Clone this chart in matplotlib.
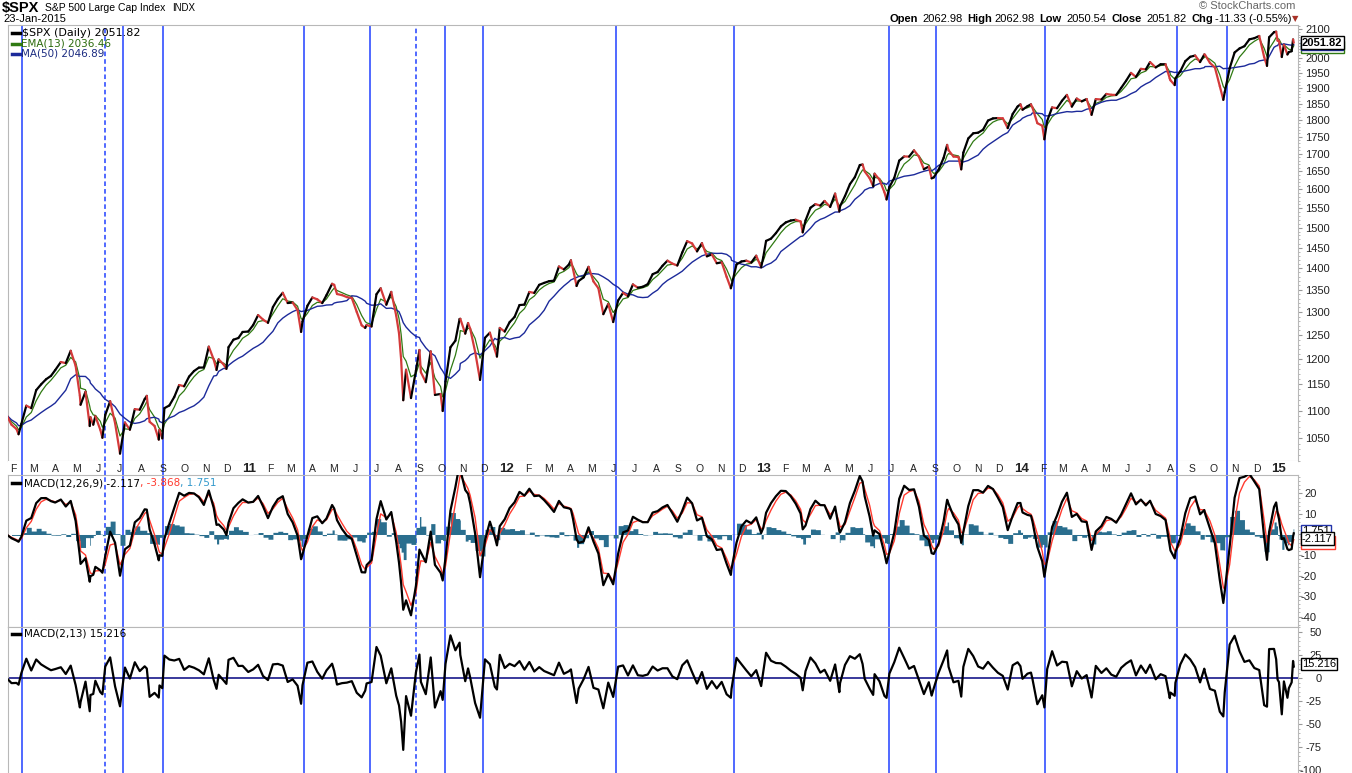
import numpy as np
import pandas as pd
import matplotlib
matplotlib.use("Agg")
import matplotlib.pyplot as plt
import matplotlib.dates as mdates
from matplotlib.collections import LineCollection
from matplotlib.lines import Line2D
from matplotlib.ticker import FixedLocator, NullFormatter, FuncFormatter
from matplotlib.transforms import blended_transform_factory

# $SPX closes (weekly, plus the sharp swing days)
price_dates = [
    # 2010
    "2010-01-22", "2010-01-29", "2010-02-05", "2010-02-08", "2010-02-12", "2010-02-19", "2010-02-26",
    "2010-03-05", "2010-03-12", "2010-03-19", "2010-03-26", "2010-04-01", "2010-04-09", "2010-04-16",
    "2010-04-23", "2010-04-30", "2010-05-06", "2010-05-07", "2010-05-14", "2010-05-20", "2010-05-21",
    "2010-05-25", "2010-05-28", "2010-06-04", "2010-06-07", "2010-06-11", "2010-06-18", "2010-06-25",
    "2010-07-02", "2010-07-09", "2010-07-16", "2010-07-23", "2010-07-30", "2010-08-06", "2010-08-09",
    "2010-08-13", "2010-08-20", "2010-08-26", "2010-08-27", "2010-08-31", "2010-09-03", "2010-09-10",
    "2010-09-17", "2010-09-24", "2010-10-01", "2010-10-08", "2010-10-15", "2010-10-22", "2010-10-29",
    "2010-11-05", "2010-11-12", "2010-11-16", "2010-11-19", "2010-11-26", "2010-11-30", "2010-12-03",
    "2010-12-10", "2010-12-17", "2010-12-23", "2010-12-31",
    # 2011
    "2011-01-07", "2011-01-14", "2011-01-21", "2011-01-28", "2011-02-04", "2011-02-11", "2011-02-18",
    "2011-02-25", "2011-03-04", "2011-03-11", "2011-03-16", "2011-03-18", "2011-03-25", "2011-04-01",
    "2011-04-08", "2011-04-15", "2011-04-21", "2011-04-29", "2011-05-02", "2011-05-06", "2011-05-13",
    "2011-05-20", "2011-05-27", "2011-06-03", "2011-06-10", "2011-06-15", "2011-06-17", "2011-06-24",
    "2011-07-01", "2011-07-07", "2011-07-15", "2011-07-22", "2011-07-29", "2011-08-02", "2011-08-05",
    "2011-08-08", "2011-08-12", "2011-08-19", "2011-08-26", "2011-08-31", "2011-09-02", "2011-09-09",
    "2011-09-16", "2011-09-22", "2011-09-30", "2011-10-03", "2011-10-07", "2011-10-14", "2011-10-21",
    "2011-10-27", "2011-10-28", "2011-11-04", "2011-11-08", "2011-11-11", "2011-11-18", "2011-11-25",
    "2011-12-02", "2011-12-09", "2011-12-16", "2011-12-19", "2011-12-23", "2011-12-30",
    # 2012
    "2012-01-06", "2012-01-13", "2012-01-20", "2012-01-27", "2012-02-03", "2012-02-10", "2012-02-17",
    "2012-02-24", "2012-03-02", "2012-03-09", "2012-03-16", "2012-03-23", "2012-03-30", "2012-04-02",
    "2012-04-05", "2012-04-10", "2012-04-13", "2012-04-20", "2012-04-27", "2012-05-04", "2012-05-11",
    "2012-05-18", "2012-05-25", "2012-06-01", "2012-06-08", "2012-06-15", "2012-06-22", "2012-06-29",
    "2012-07-06", "2012-07-13", "2012-07-20", "2012-07-27", "2012-08-03", "2012-08-10", "2012-08-17",
    "2012-08-24", "2012-08-31", "2012-09-07", "2012-09-14", "2012-09-21", "2012-09-28", "2012-10-05",
    "2012-10-12", "2012-10-19", "2012-10-26", "2012-11-02", "2012-11-09", "2012-11-15", "2012-11-16",
    "2012-11-23", "2012-11-30", "2012-12-07", "2012-12-14", "2012-12-21", "2012-12-28", "2012-12-31",
    # 2013
    "2013-01-04", "2013-01-11", "2013-01-18", "2013-01-25", "2013-02-01", "2013-02-08", "2013-02-15",
    "2013-02-22", "2013-02-25", "2013-03-01", "2013-03-08", "2013-03-15", "2013-03-22", "2013-03-28",
    "2013-04-05", "2013-04-12", "2013-04-18", "2013-04-19", "2013-04-26", "2013-05-03", "2013-05-10",
    "2013-05-17", "2013-05-21", "2013-05-24", "2013-05-31", "2013-06-05", "2013-06-07", "2013-06-14",
    "2013-06-21", "2013-06-24", "2013-06-28", "2013-07-05", "2013-07-12", "2013-07-19", "2013-07-26",
    "2013-08-02", "2013-08-09", "2013-08-16", "2013-08-23", "2013-08-27", "2013-08-30", "2013-09-06",
    "2013-09-13", "2013-09-18", "2013-09-20", "2013-09-27", "2013-10-04", "2013-10-08", "2013-10-11",
    "2013-10-18", "2013-10-25", "2013-11-01", "2013-11-08", "2013-11-15", "2013-11-22", "2013-11-29",
    "2013-12-06", "2013-12-13", "2013-12-20", "2013-12-27", "2013-12-31",
    # 2014
    "2014-01-03", "2014-01-10", "2014-01-15", "2014-01-17", "2014-01-24", "2014-01-31", "2014-02-03",
    "2014-02-07", "2014-02-14", "2014-02-21", "2014-02-28", "2014-03-07", "2014-03-14", "2014-03-21",
    "2014-03-28", "2014-04-04", "2014-04-11", "2014-04-17", "2014-04-25", "2014-05-02", "2014-05-09",
    "2014-05-16", "2014-05-23", "2014-05-30", "2014-06-06", "2014-06-13", "2014-06-20", "2014-06-27",
    "2014-07-03", "2014-07-11", "2014-07-18", "2014-07-25", "2014-07-31", "2014-08-01", "2014-08-07",
    "2014-08-08", "2014-08-15", "2014-08-22", "2014-08-29", "2014-09-05", "2014-09-12", "2014-09-18",
    "2014-09-19", "2014-09-26", "2014-10-03", "2014-10-10", "2014-10-15", "2014-10-17", "2014-10-24",
    "2014-10-31", "2014-11-07", "2014-11-14", "2014-11-21", "2014-11-28", "2014-12-05", "2014-12-12",
    "2014-12-16", "2014-12-19", "2014-12-26", "2014-12-29", "2014-12-31",
    # 2015
    "2015-01-02", "2015-01-06", "2015-01-09", "2015-01-14", "2015-01-16", "2015-01-20", "2015-01-22",
    "2015-01-23",
]
price_close = [
    # 2010
    1091.76, 1073.87, 1066.19, 1056.74, 1075.51, 1109.17, 1104.49,
    1138.70, 1149.99, 1159.90, 1166.59, 1178.10, 1194.37, 1192.13,
    1217.28, 1186.69, 1128.15, 1110.88, 1135.68, 1071.59, 1087.69,
    1074.03, 1089.41, 1064.88, 1050.47, 1091.60, 1117.51, 1076.76,
    1022.58, 1077.96, 1064.88, 1102.66, 1101.60, 1121.64, 1127.79,
    1079.25, 1071.69, 1047.22, 1064.59, 1049.33, 1104.51, 1109.55,
    1125.59, 1148.67, 1146.24, 1165.15, 1176.19, 1183.08, 1183.26,
    1225.85, 1199.21, 1178.34, 1199.73, 1189.40, 1180.55, 1224.71,
    1240.40, 1243.91, 1256.77, 1257.64,
    # 2011
    1271.50, 1293.24, 1283.35, 1276.34, 1310.87, 1329.15, 1343.01,
    1319.88, 1321.15, 1304.28, 1256.88, 1279.20, 1313.80, 1332.41,
    1328.17, 1319.68, 1337.38, 1363.61, 1361.22, 1340.20, 1337.77,
    1333.27, 1331.10, 1300.16, 1270.98, 1265.42, 1271.50, 1268.45,
    1339.67, 1353.22, 1316.14, 1345.02, 1292.28, 1254.05, 1199.38,
    1119.46, 1178.81, 1123.53, 1176.80, 1218.89, 1173.97, 1154.23,
    1216.01, 1129.56, 1131.42, 1099.23, 1155.46, 1224.58, 1238.25,
    1284.59, 1285.09, 1253.23, 1275.92, 1263.85, 1215.65, 1158.67,
    1244.28, 1255.19, 1219.66, 1205.35, 1265.33, 1257.60,
    # 2012
    1277.81, 1289.09, 1315.38, 1316.33, 1344.90, 1342.64, 1361.23,
    1365.74, 1369.63, 1370.87, 1404.17, 1397.11, 1408.47, 1419.04,
    1398.08, 1358.59, 1370.26, 1378.53, 1403.36, 1369.10, 1353.39,
    1295.22, 1317.82, 1278.04, 1325.66, 1342.84, 1335.02, 1362.16,
    1354.68, 1356.78, 1362.66, 1385.97, 1390.99, 1405.87, 1418.16,
    1411.13, 1406.58, 1437.92, 1465.77, 1460.15, 1440.67, 1460.93,
    1428.59, 1433.19, 1411.94, 1414.20, 1379.85, 1353.33, 1359.88,
    1409.15, 1416.18, 1418.07, 1413.58, 1430.15, 1402.43, 1426.19,
    # 2013
    1466.47, 1472.05, 1485.98, 1502.96, 1513.17, 1517.93, 1519.79,
    1515.60, 1487.85, 1518.20, 1551.18, 1560.70, 1556.89, 1569.19,
    1553.28, 1588.85, 1541.61, 1555.25, 1582.24, 1614.42, 1633.70,
    1667.47, 1669.16, 1649.60, 1630.74, 1608.90, 1643.38, 1626.73,
    1592.43, 1573.09, 1606.28, 1631.89, 1680.19, 1692.09, 1691.65,
    1709.67, 1691.42, 1655.83, 1663.50, 1630.48, 1632.97, 1655.17,
    1687.99, 1725.52, 1709.91, 1691.75, 1690.50, 1655.45, 1703.20,
    1744.50, 1759.77, 1761.64, 1770.61, 1798.18, 1804.76, 1805.81,
    1805.09, 1775.32, 1818.32, 1841.40, 1848.36,
    # 2014
    1831.37, 1842.37, 1848.38, 1838.70, 1790.29, 1782.59, 1741.89,
    1797.02, 1838.63, 1836.25, 1859.45, 1878.04, 1841.13, 1866.52,
    1857.62, 1865.09, 1815.69, 1864.85, 1863.40, 1881.14, 1878.48,
    1877.86, 1900.53, 1923.57, 1949.44, 1936.16, 1962.87, 1960.96,
    1985.44, 1967.57, 1978.22, 1978.34, 1930.67, 1925.15, 1909.57,
    1931.59, 1955.06, 1988.40, 2003.37, 2007.71, 1985.54, 2011.36,
    2010.40, 1982.85, 1967.90, 1906.13, 1862.49, 1886.76, 1964.58,
    2018.05, 2031.92, 2039.82, 2063.50, 2067.56, 2075.37, 2002.33,
    1972.74, 2070.65, 2088.77, 2090.57, 2058.90,
    # 2015
    2058.20, 2002.61, 2044.81, 2011.27, 2019.42, 2022.55, 2063.15,
    2051.82,
]

# marked turning points (vertical lines) and their style
vline_dates = ["2010-02-13", "2010-06-10", "2010-07-06", "2010-09-01", "2011-03-20", "2011-06-22",
               "2011-08-26", "2011-10-06", "2011-11-29", "2012-06-05", "2012-11-20", "2013-06-28",
               "2013-09-02", "2014-02-04", "2014-08-10", "2014-10-20"]
vline_styles = ["-", "--", "-", "-", "-", "-", "--", "-", "-", "-", "-", "-", "-", "-", "-", "-"]

price_ticks = list(range(1050, 2101, 50))
macd_ticks = [-40, -30, -20, -10, 0, 10, 20]
macd2_ticks = [-100, -75, -50, -25, 0, 25, 50]

RED = "#d43a3a"
GREEN = "#2f7a12"
NAVY = "#1c2a9a"
VBLUE = "#2040ff"
HIST = "#2a6e8e"
FRAME = "#b8b8b8"
SANS = "Liberation Sans"
VERD = "DejaVu Sans"

W, H = 1352, 773
fig = plt.figure(figsize=(W / 100, H / 100), dpi=100)
renderer = fig.canvas.get_renderer()


def panel(top, bottom):
    return fig.add_axes([8 / W, 1 - bottom / H, 1290 / W, (bottom - top) / H])


def ftext(x, y, s, **kw):
    kw.setdefault("family", SANS)
    kw.setdefault("va", "center")
    return fig.text(x / W, 1 - y / H, s, **kw)


def chain(x, y, parts, gap=0, **kw):
    # write text pieces one after another, each starting where the last ended
    for s, color in parts:
        t = ftext(x, y, s, color=color, **kw)
        x = t.get_window_extent(renderer).x1 + gap


def fline(x0, x1, y, color):
    fig.add_artist(Line2D([x0 / W, x1 / W], [1 - y / H, 1 - y / H], color=color, lw=2.5,
                          transform=fig.transFigure))


ax1 = panel(25, 461)
axd = panel(461, 475)
ax2 = panel(475, 627)
ax3 = panel(627, 790)

px = pd.Series(price_close, index=pd.to_datetime(price_dates))
x = mdates.date2num(px.index)


def ema(s, n):
    # daily EMA span n expressed as a calendar-time half life
    hl = np.log(2) / -np.log(1 - 2 / (n + 1)) * 7 / 5
    return s.ewm(halflife=pd.Timedelta(days=hl), times=s.index).mean()


ema13 = ema(px, 13)
ma50 = px.rolling("70D").mean()
macd = ema(px, 12) - ema(px, 26)
sig = ema(macd, 9)
hist = macd - sig
macd2 = ema(px, 2) - ema(px, 13)

x0 = mdates.datestr2num("2010-01-24")
x1 = mdates.datestr2num("2015-01-29")

# price panel
ax1.set_yscale("log")
pts = np.column_stack([x, px.values])
segs = np.stack([pts[:-1], pts[1:]], axis=1)
cols = np.where(np.diff(px.values) < 0, RED, "black")
ax1.add_collection(LineCollection(segs, colors=cols, linewidths=1.6, zorder=4, capstyle="round"))
ax1.plot(x, ema13.values, color=GREEN, lw=0.9, zorder=3)
ax1.plot(x, ma50.values, color=NAVY, lw=1.0, zorder=3)
ax1.set_ylim(1009.9, 2114.3)

# MACD(12,26,9)
ax2.fill_between(x, hist.values, 0, step="post", color=HIST, lw=0, zorder=2)
ax2.plot(x, sig.values, color="#ff3b2f", lw=1.0, zorder=3)
ax2.plot(x, macd.values, color="black", lw=1.6, zorder=4)
ax2.set_ylim(-45.1, 29.0)

# MACD(2,13)
ax3.axhline(0, color="#16168a", lw=1.2, zorder=2)
ax3.plot(x, macd2.values, color="black", lw=1.6, zorder=4)
ax3.set_ylim(-121.7, 55.4)

for ax in (ax1, axd, ax2, ax3):
    ax.set_xlim(x0, x1)
    ax.set_xticks([])
    for sp in ax.spines.values():
        sp.set_color(FRAME)
    for d, ls in zip(vline_dates, vline_styles):
        ax.axvline(mdates.datestr2num(d), color=VBLUE, lw=1.1,
                   ls=(0, (3, 2)) if ls == "--" else "-", zorder=1)

axd.set_yticks([])
for sp in axd.spines.values():
    sp.set_visible(False)

fmt = FuncFormatter(lambda v, p: f"{v:g}")
for ax, ticks, minor, pad in ((ax1, price_ticks, range(1010, 2111, 10), 20),
                              (ax2, macd_ticks, range(-44, 29, 2), 10.5),
                              (ax3, macd2_ticks, range(-120, 56, 5), 14)):
    ax.yaxis.tick_right()
    ax.yaxis.set_major_locator(FixedLocator(ticks))
    ax.yaxis.set_minor_locator(FixedLocator(list(minor)))
    ax.yaxis.set_major_formatter(fmt)
    ax.yaxis.set_minor_formatter(NullFormatter())
    ax.tick_params(axis="y", which="major", length=3, color="#999999", labelsize=8,
                   labelcolor="#222222", pad=pad)
    ax.tick_params(axis="y", which="minor", length=1.5, color="#aaaaaa")
    for lab in ax.get_yticklabels():
        lab.set_ha("right")
        lab.set_family(SANS)

# month strip
for m in pd.date_range("2010-02-01", "2015-01-01", freq="MS"):
    if m.month == 1:
        axd.text(mdates.date2num(m), 0.45, m.strftime("%y"), ha="center", va="center",
                 fontsize=9.5, fontweight="bold", family=SANS, color="#222222")
    else:
        axd.text(mdates.date2num(m), 0.45, m.strftime("%b")[0], ha="center", va="center",
                 fontsize=7.5, family=SANS, color="#222222")


def tag(ax, yval, text, ec, weight="normal", z=6):
    tr = blended_transform_factory(ax.transAxes, ax.transData)
    ax.text((1302 - 8) / 1290, yval, text, transform=tr, ha="left", va="center", fontsize=8,
            fontweight=weight, family=SANS, color="black", clip_on=False, zorder=z,
            bbox=dict(boxstyle="square,pad=0.12", fc="white", ec=ec, lw=1))


tag(ax1, 2036.46, "2036.46", GREEN, z=6)
tag(ax1, 2046.89, "2046.89", NAVY, z=7)
tag(ax1, 2051.82, "2051.82", "black", weight="bold", z=8)
tag(ax2, -3.868, "-3.868", "#ff3b2f", z=6)
tag(ax2, 1.751, "1.751", "#2233aa", z=7)
tag(ax2, -2.117, "-2.117", "black", z=8)
tag(ax3, 15.216, "15.216", "black", z=8)

# header
ftext(2, 8, "$SPX", fontsize=10.5, fontweight="bold")
ftext(45, 8, "S&P 500 Large Cap Index", fontsize=7.5)
ftext(172, 8, "INDX", fontsize=7)
ftext(3, 19, "23-Jan-2015", fontsize=8)
ftext(1199, 6, "\u00a9 StockCharts.com", fontsize=8, color="#666666")
for xp, s, bold in ((890, "Open", True), (922, "2062.98", False), (967, "High", True),
                    (994, "2062.98", False), (1039, "Low", True), (1066, "2050.54", False),
                    (1111, "Close", True), (1146, "2051.82", False), (1191, "Chg", True),
                    (1215, "-11.33 (-0.55%)", False)):
    ftext(xp, 19, s, fontsize=8, fontweight="bold" if bold else "normal")
ftext(1292, 19, "\u25bc", fontsize=6, color="#a83228", family=VERD)

# panel legends
fline(12, 20, 33, "black")
ftext(22, 33, "$SPX (Daily) 2051.82", fontsize=8, family=VERD)
fline(12, 20, 43.5, GREEN)
ftext(21, 43.5, "EMA(13) 2036.46", fontsize=7.5, family=VERD, color="#2a6a0c")
fline(12, 20, 54, NAVY)
ftext(21, 54, "MA(50) 2046.89", fontsize=7.5, family=VERD, color="#1a2a80")

fline(12, 20, 483, "black")
chain(24, 483, [("MACD(12,26,9) -2.117", "black"), (", -3.868", "#ff3b2f"),
                (", 1.751", "#3399cc")], fontsize=7.5, family=VERD)

fline(12, 20, 634, "black")
ftext(24, 634, "MACD(2,13) 15.216", fontsize=7.5, family=VERD)

fig.savefig("out.png", dpi=100)
